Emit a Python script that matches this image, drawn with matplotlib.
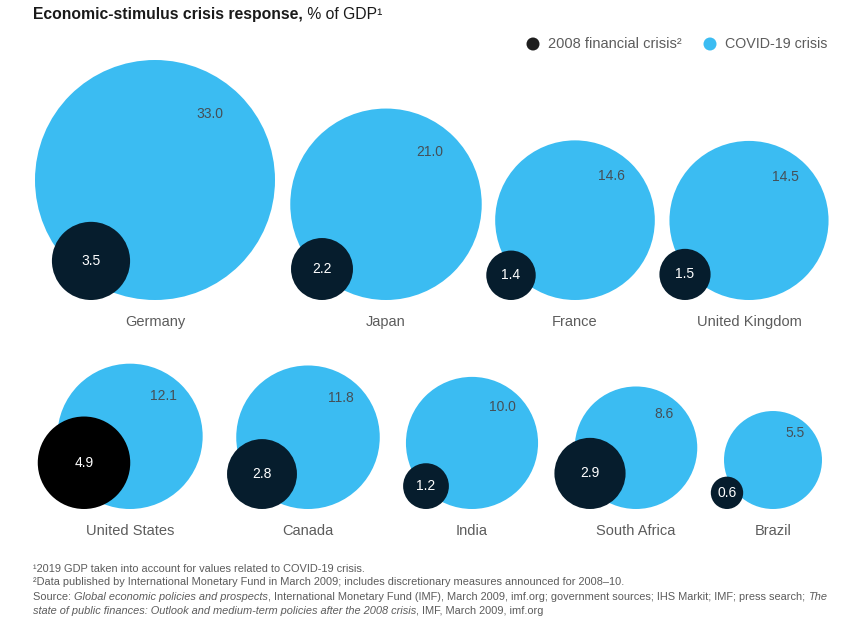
import matplotlib
matplotlib.use("Agg")
import matplotlib.pyplot as plt
from matplotlib.patches import Circle
import numpy as np

# Data (% of GDP)
countries_top = ["Germany", "Japan", "France", "United Kingdom"]
covid_top = [33.0, 21.0, 14.6, 14.5]
gfc_top = [3.5, 2.2, 1.4, 1.5]

countries_bottom = ["United States", "Canada", "India", "South Africa", "Brazil"]
covid_bottom = [12.1, 11.8, 10.0, 8.6, 5.5]
gfc_bottom = [4.9, 2.8, 1.2, 2.9, 0.6]

# Layout (pixel space)
W, H = 854, 622
slots_top = [155, 386, 575, 749]
slots_bottom = [130, 308, 472, 636, 773]
base_top, base_bottom = 300, 509
dark_shift_top, dark_shift_bottom = -64, -46
RMAX = 120  # radius of the largest bubble
scale = RMAX / np.sqrt(max(covid_top + covid_bottom))

BLUE = "#3bbcf2"
NAVY = "#061d2d"
GREY = "#5c5c5c"
FONT = ["Liberation Sans", "DejaVu Sans"]

fig = plt.figure(figsize=(W / 100, H / 100), dpi=100)
ax = fig.add_axes([0, 0, 1, 1])
ax.set_xlim(0, W)
ax.set_ylim(H, 0)
ax.axis("off")
renderer = fig.canvas.get_renderer()


def runs(x, y, parts, size, color, family=FONT):
    # draw a line of text made of differently styled pieces (y = baseline)
    for txt, weight, style in parts:
        t = ax.text(x, y, txt, fontsize=size, color=color, family=family,
                    fontweight=weight, fontstyle=style, va="baseline", ha="left")
        x += t.get_window_extent(renderer=renderer).width


def draw_row(names, covid, gfc, slots, base, shift):
    for name, c, g, sx in zip(names, covid, gfc, slots):
        R = scale * np.sqrt(c)
        r = scale * np.sqrt(g)
        cy = base - R
        ax.add_patch(Circle((sx, cy), R, color=BLUE, lw=0))
        ax.text(sx + 0.46 * R, cy - 0.55 * R, f"{c:.1f}", fontsize=10,
                color="#454f57", ha="center", va="center", family=FONT)
        dcol = "#000000" if name == "United States" else NAVY
        ax.add_patch(Circle((sx + shift, base - r), r, color=dcol, lw=0))
        ax.text(sx + shift, base - r, f"{g:.1f}", fontsize=10, color="white",
                ha="center", va="center", family=FONT)
        ax.text(sx, base + 22, name, fontsize=10.5, color=GREY,
                ha="center", va="center", family=FONT)


draw_row(countries_top, covid_top, gfc_top, slots_top, base_top, dark_shift_top)
draw_row(countries_bottom, covid_bottom, gfc_bottom, slots_bottom, base_bottom,
         dark_shift_bottom)

# Title
runs(33, 19, [("Economic-stimulus crisis response,", "bold", "normal"),
              (" % of GDP\u00b9", "normal", "normal")], 11.3, "#1a1a1a")

# Legend
ax.add_patch(Circle((533, 44), 6.5, color="#1e1e1e", lw=0))
ax.text(548, 44, "2008 financial crisis\u00b2", fontsize=10.5, color=GREY,
        va="center", family=FONT)
ax.add_patch(Circle((710, 44), 6.5, color=BLUE, lw=0))
ax.text(725, 44, "COVID-19 crisis", fontsize=10.3, color=GREY,
        va="center", family=FONT)

# Footnotes
fs = 7.95
runs(33, 572, [("\u00b92019 GDP taken into account for values related to COVID-19 crisis.",
                "normal", "normal")], fs, GREY)
runs(33, 585, [("\u00b2Data published by International Monetary Fund in March 2009; "
                "includes discretionary measures announced for 2008\u201310.",
                "normal", "normal")], fs, GREY)
runs(33, 600, [("Source: ", "normal", "normal"),
               ("Global economic policies and prospects", "normal", "italic"),
               (", International Monetary Fund (IMF), March 2009, imf.org; government "
                "sources; IHS Markit; IMF; press search; ", "normal", "normal"),
               ("The", "normal", "italic")], fs, GREY)
runs(33, 614, [("state of public finances: Outlook and medium-term policies after "
                "the 2008 crisis", "normal", "italic"),
               (", IMF, March 2009, imf.org", "normal", "normal")], fs, GREY)

fig.savefig("out.png", dpi=100)
